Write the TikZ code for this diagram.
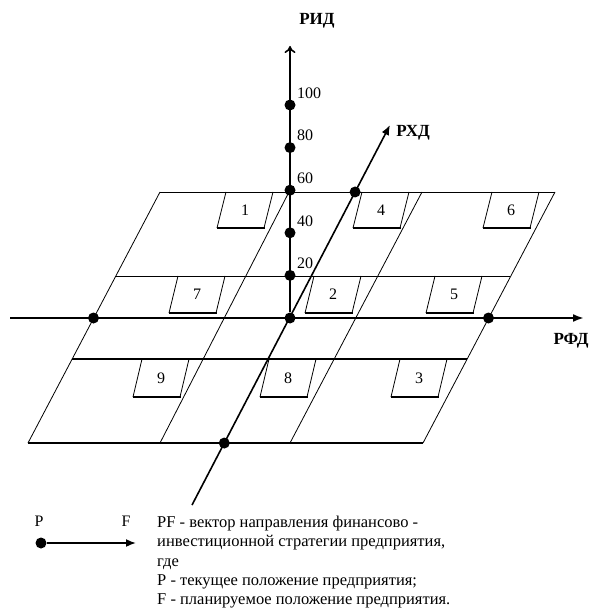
\documentclass[tikz,border=0pt]{standalone}
\usepackage{fontspec}
\setmainfont{Liberation Serif}
\usetikzlibrary{arrows.meta,calc}
\tikzset{
  pl/.style={line width=0.8pt},
  plb/.style={line width=1.3pt},
  axisln/.style={line width=2pt},
  dotn/.style={circle,fill=black,inner sep=0pt,minimum size=11pt},
  tick/.style={font=\fontsize{16}{18}\selectfont,anchor=west,inner sep=0pt},
  axlab/.style={font=\fontsize{17}{18}\selectfont\bfseries,inner sep=0pt},
  numlab/.style={font=\fontsize{16}{18}\selectfont,inner sep=0pt},
  boxside/.style={line width=0.8pt},
  boxbot/.style={line width=1.6pt},
}
\newcommand\regbox[4]{% x1, ytop, ybot, label/name
  \draw[boxside] (#1,#2) -- (#1-9,#3);
  \draw[boxbot] (#1-9.5,#3) -- (#1+38.5,#3);
  \draw[boxside] (#1+47,#2) -- (#1+38,#3);
  \node[numlab] (b#4) at (#1+19,{(#2+#3)/2}) {#4};
}
\begin{document}
\begin{tikzpicture}[x=1pt,y=-1pt]
\useasboundingbox (0,0) rectangle (591,609);
% plane coordinates
\coordinate (tl) at (160,192); \coordinate (tr) at (555,192);
\coordinate (sl) at (116,276); \coordinate (sr) at (510,276);
\coordinate (hl) at (72,359);  \coordinate (hr) at (467,359);
\coordinate (bl) at (28,443);  \coordinate (br) at (423,443);
\coordinate (at) at (289,192); \coordinate (ab) at (160,443);
\coordinate (bt) at (422,192); \coordinate (bb) at (290,443);
% plane lines
\draw[pl] (tl) -- (tr);
\draw[pl] (sl) -- (sr);
\draw[plb] (hl) -- (hr);
\draw[plb] (bl) -- (br);
\draw[pl] (tl) -- (bl);
\draw[pl] (tr) -- (br);
\draw[pl] (at) -- (ab);
\draw[pl] (bt) -- (bb);
% boxes
\regbox{226}{192}{228}{1}
\regbox{362}{192}{228}{4}
\regbox{492}{192}{228}{6}
\regbox{178}{276}{313}{7}
\regbox{314}{276}{313}{2}
\regbox{435}{276}{313}{5}
\regbox{142}{359}{397}{9}
\regbox{269}{359}{397}{8}
\regbox{400}{359}{397}{3}
% axes
\coordinate (fl) at (10,318); \coordinate (fr) at (584,318);
\coordinate (it) at (290,46);
\coordinate (xb) at (192,505); \coordinate (xt) at (390,125);
\node[dotn] (o) at (290,318) {};
\draw[axisln,-{Latex[length=11pt,width=8pt]}] (fl) -- (fr);
\draw[line width=1.6pt,-{To[length=7pt,width=11pt]}] (o) -- (it);
\draw[line width=1.6pt,-{Latex[length=10pt,width=8pt]}] (xb) -- (xt);
% dots
\node[dotn] (fdl) at (93.5,318) {};
\node[dotn] (fdr) at (488.5,318) {};
\node[dotn] (xdb) at ($(xb)!0.163!(xt)$) {};
\node[dotn] (xdt) at ($(xb)!0.8237!(xt)$) {};
\foreach \k/\v in {1/20,2/40,3/60,4/80,5/100}{
  \node[dotn] (d\v) at (290,{318-42.6*\k}) {};
  \node[tick] (t\v) at (297,{318-42.6*\k-12}) {\v};
}
% axis labels
\node[axlab] (lrid) at (317,21) {РИД};
\node[axlab] (lrhd) at (413,133) {РХД};
\node[axlab] (lrfd) at (571,341) {РФД};
% legend
\node[dotn] (lp) at (41,543) {};
\coordinate (lf) at (136,543);
\draw[line width=1.7pt,-{Latex[length=10pt,width=8pt]}] (lp) -- (lf);
\node[numlab] (lpl) at (39,521) {P};
\node[numlab] (lfl) at (126,521) {F};
\node[anchor=north west,inner sep=0pt,align=left,font=\fontsize{16.5}{19.2}\selectfont] (legtxt) at (157,516)
 {PF - вектор направления финансово -\\
  инвестиционной стратегии предприятия,\\
  где\\
  P - текущее положение предприятия;\\
  F - планируемое положение предприятия.};
\end{tikzpicture}
\end{document}
